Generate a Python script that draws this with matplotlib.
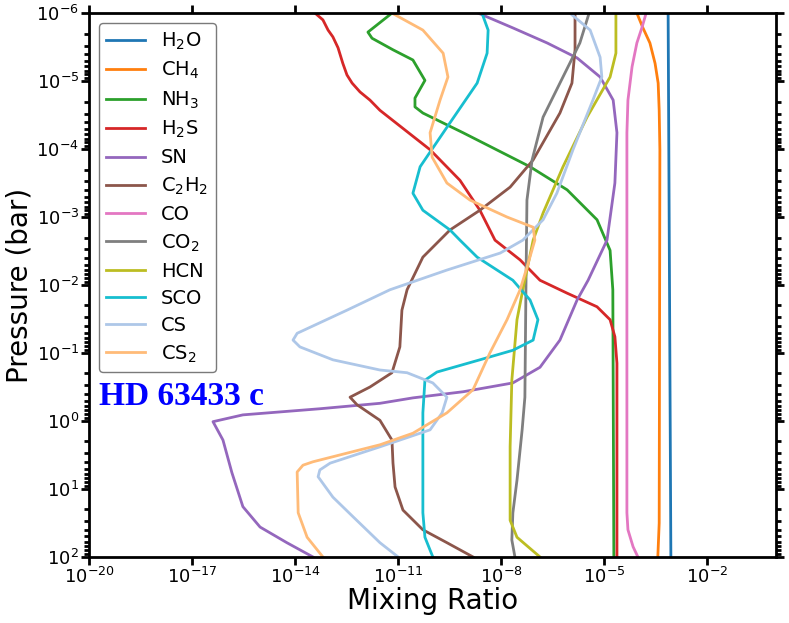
import numpy as np
import matplotlib
matplotlib.use('Agg')
import matplotlib.pyplot as plt
from matplotlib.ticker import NullLocator, LogFormatterMathtext

# log10 mixing ratio / log10 pressure (bar)
h2o_x = [-3.14, -3.10, -3.06]
h2o_p = [-6.0, -2.0, 2.0]

ch4_x = [-4.05, -3.88, -3.67, -3.52, -3.43, -3.40, -3.38, -3.40, -3.44]
ch4_p = [-6.0, -5.79, -5.56, -5.26, -4.97, -4.57, -3.99, 1.5, 2.0]

nh3_x = [-11.18, -11.88, -11.76, -11.15, -10.57, -10.22, -10.51, -10.51, -10.28,
         -9.11, -7.16, -6.08, -5.21, -4.83, -4.75, -4.72]
nh3_p = [-6.0, -5.72, -5.63, -5.46, -5.31, -5.01, -4.75, -4.62, -4.53,
         -4.24, -3.74, -3.40, -2.96, -2.51, -1.93, 2.0]

h2s_x = [-13.42, -13.19, -13.04, -12.90, -12.75, -12.61, -12.49, -12.34, -12.11,
         -11.82, -11.53, -10.07, -9.20, -8.62, -8.18, -7.45, -6.87, -6.08, -5.21,
         -4.83, -4.69, -4.63, -4.63]
h2s_p = [-6.0, -5.90, -5.75, -5.65, -5.49, -5.26, -5.09, -4.97, -4.84,
         -4.72, -4.57, -3.99, -3.54, -3.10, -2.66, -2.37, -2.07, -1.88, -1.68,
         -1.49, -1.24, -0.85, 2.0]

sn_x = [-8.67, -7.65, -6.66, -5.79, -5.12, -4.74, -4.63, -4.69, -4.92, -5.47,
        -5.79, -6.29, -6.87, -7.66, -9.11, -10.57, -11.53, -13.28, -15.52,
        -16.39, -16.10, -15.84, -15.52, -15.02, -14.24, -13.48]
sn_p = [-6.0, -5.78, -5.56, -5.34, -5.06, -4.72, -4.24, -3.50, -2.66, -2.07,
        -1.78, -1.19, -0.79, -0.56, -0.43, -0.34, -0.26, -0.18, -0.09,
        0.01, 0.28, 0.76, 1.26, 1.56, 1.79, 2.0]

c2h2_x = [-5.85, -5.85, -5.94, -6.29, -7.07, -7.74, -8.62, -9.49, -10.28, -10.74,
          -10.89, -10.95, -11.18, -11.82, -12.40, -12.20, -11.53, -11.18, -11.15,
          -11.09, -10.86, -10.28, -9.58, -8.82]
c2h2_p = [-6.0, -5.46, -4.97, -4.53, -3.84, -3.44, -3.10, -2.81, -2.41, -1.93,
          -1.63, -1.09, -0.71, -0.50, -0.35, -0.24, -0.01, 0.28, 0.62,
          0.97, 1.31, 1.60, 1.79, 2.0]

co_x = [-3.78, -3.90, -4.05, -4.19, -4.31, -4.34, -4.34, -4.31, -4.16, -4.02]
co_p = [-6.0, -5.79, -5.56, -5.21, -4.72, -4.24, 1.35, 1.60, 1.85, 2.0]

co2_x = [-5.44, -5.71, -6.29, -6.78, -7.10, -7.25, -7.28, -7.31, -7.39, -7.54,
         -7.66, -7.69, -7.60]
co2_p = [-6.0, -5.56, -4.97, -4.47, -3.84, -3.25, -1.93, -0.35, 0.13, 0.87,
         1.35, 1.75, 2.0]

hcn_x = [-4.66, -4.66, -4.83, -5.50, -6.20, -6.78, -7.07, -7.37, -7.54, -7.69,
         -7.74, -7.74, -7.54, -6.87]
hcn_p = [-6.0, -5.41, -5.06, -4.47, -3.74, -3.06, -2.66, -1.93, -1.49, -0.60,
         0.38, 1.46, 1.71, 2.0]

sco_x = [-8.56, -8.38, -8.41, -8.70, -9.58, -10.36, -10.57, -10.28, -9.49, -9.20,
         -8.70, -8.12, -7.66, -7.16, -6.93, -7.07, -7.66, -8.62, -9.87, -10.22,
         -10.28, -10.28, -10.22, -9.99]
sco_p = [-6.0, -5.75, -5.41, -4.97, -4.32, -3.74, -3.35, -3.10, -2.81, -2.66,
         -2.41, -2.22, -2.07, -1.78, -1.49, -1.19, -1.04, -0.90, -0.72, -0.60,
         -0.12, 1.35, 1.71, 2.0]

cs_x = [-6.00, -5.41, -5.12, -5.07, -5.33, -5.91, -6.38, -6.78, -7.37, -8.03,
        -9.58, -11.24, -12.49, -13.94, -14.06, -13.86, -12.90, -11.53, -10.74,
        -9.99, -9.58, -9.72, -10.07, -11.53, -12.98, -13.28, -13.33, -12.90,
        -12.31, -11.53, -11.00]
cs_p = [-6.0, -5.75, -5.35, -5.06, -4.72, -3.99, -3.35, -2.96, -2.66, -2.47,
        -2.22, -1.93, -1.63, -1.29, -1.19, -1.09, -0.90, -0.75, -0.71,
        -0.56, -0.35, -0.12, 0.13, 0.38, 0.62, 0.72, 0.82, 1.12,
        1.41, 1.79, 2.0]

cs2_x = [-11.18, -10.28, -9.69, -9.55, -9.78, -10.07, -10.01, -9.58, -8.91, -7.83,
         -7.07, -7.02, -7.25, -7.45, -7.83, -8.33, -8.82, -9.58, -10.57, -11.53,
         -13.48, -13.77, -13.94, -13.91, -13.65, -13.19]
cs2_p = [-6.0, -5.75, -5.41, -5.06, -4.72, -4.24, -3.88, -3.50, -3.25, -3.00,
         -2.85, -2.66, -2.26, -1.93, -1.49, -1.00, -0.46, -0.12, 0.18, 0.35,
         0.60, 0.65, 0.75, 1.35, 1.71, 2.0]

species = [
    (r'H$_2$O', h2o_x, h2o_p, 'tab:blue'),
    (r'CH$_4$', ch4_x, ch4_p, 'tab:orange'),
    (r'NH$_3$', nh3_x, nh3_p, 'tab:green'),
    (r'H$_2$S', h2s_x, h2s_p, 'tab:red'),
    ('SN', sn_x, sn_p, 'tab:purple'),
    (r'C$_2$H$_2$', c2h2_x, c2h2_p, 'tab:brown'),
    ('CO', co_x, co_p, 'tab:pink'),
    (r'CO$_2$', co2_x, co2_p, 'tab:gray'),
    ('HCN', hcn_x, hcn_p, 'tab:olive'),
    ('SCO', sco_x, sco_p, 'tab:cyan'),
    ('CS', cs_x, cs_p, '#aec7e8'),
    (r'CS$_2$', cs2_x, cs2_p, '#ffbb78'),
]

fig = plt.figure(figsize=(7.89, 6.23), dpi=100)
ax = fig.add_axes([0.1128, 0.106, 0.8707, 0.873])

for name, xs, ps, col in species:
    ax.plot(10.0 ** np.array(xs), 10.0 ** np.array(ps), color=col, lw=2, label=name)

ax.set_xscale('log')
ax.set_yscale('log')
ax.set_xlim(1e-20, 1e0)
ax.set_ylim(1e2, 1e-6)
ax.set_xticks(10.0 ** np.arange(-20, 0, 3))
ax.xaxis.set_minor_locator(NullLocator())
ax.xaxis.set_major_formatter(LogFormatterMathtext())

for s in ax.spines.values():
    s.set_linewidth(2)
ax.tick_params(which='both', direction='out', top=True, right=True, width=2)
ax.tick_params(which='major', length=6, labelsize=13, pad=1)
ax.tick_params(which='minor', length=3.5)

ax.set_xlabel('Mixing Ratio', fontsize=20, labelpad=0)
ax.set_ylabel('Pressure (bar)', fontsize=20, labelpad=2)

leg = ax.legend(loc='upper left', fontsize=14, handlelength=2.0, borderaxespad=0.5,
                labelspacing=0.42)
leg.get_frame().set_edgecolor('0.35')

ax.text(10 ** -19.7, 10 ** -0.235, 'HD 63433 c', color='blue', fontsize=24,
        fontweight='bold', family='Liberation Serif', zorder=10)

fig.savefig('out.png', dpi=100)
